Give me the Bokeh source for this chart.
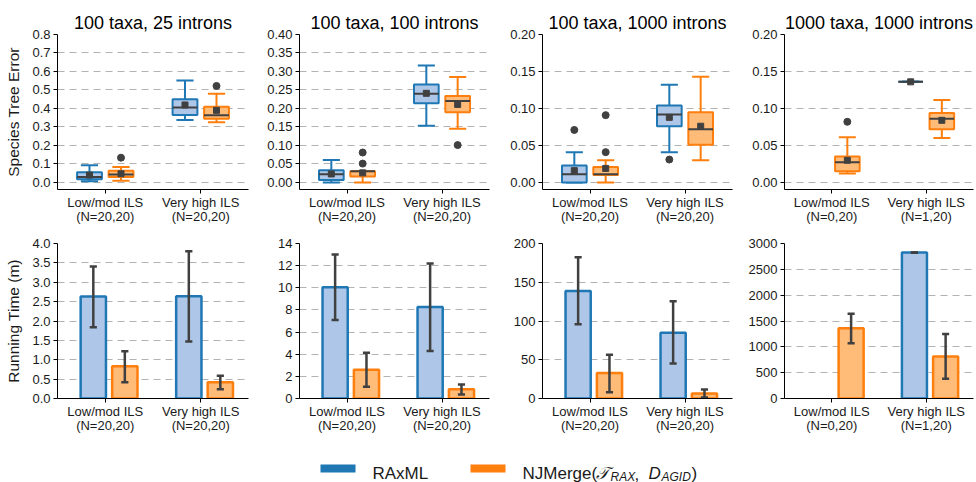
from bokeh.plotting import figure
from bokeh.layouts import row, column
from bokeh.models import Range1d, FixedTicker, NumeralTickFormatter, ColumnDataSource
from bokeh.embed import file_html
from bokeh.resources import INLINE
from bokeh.core.properties import value

# ---------------- data ----------------
GROUPS = ["Low/mod ILS", "Very high ILS"]
TITLES = ["100 taxa, 25 introns", "100 taxa, 100 introns",
          "100 taxa, 1000 introns", "1000 taxa, 1000 introns"]
N_LABELS = [["(N=20,20)", "(N=20,20)"], ["(N=20,20)", "(N=20,20)"],
            ["(N=20,20)", "(N=20,20)"], ["(N=0,20)", "(N=1,20)"]]

# Species tree error box stats per panel, per group: (whisker lo, q1, median, q3, whisker hi, mean)
ERR_RAX = [
    [(0.007, 0.018, 0.030, 0.055, 0.093, 0.040), (0.338, 0.365, 0.405, 0.450, 0.551, 0.419)],
    [(0.000, 0.007, 0.022, 0.033, 0.061, 0.023), (0.153, 0.214, 0.240, 0.265, 0.316, 0.241)],
    [(0.000, 0.000, 0.011, 0.023, 0.041, 0.016), (0.041, 0.076, 0.092, 0.104, 0.132, 0.088)],
    [None, (0.136, 0.136, 0.136, 0.136, 0.136, 0.136)],
]
ERR_NJM = [
    [(0.009, 0.030, 0.043, 0.063, 0.083, 0.047), (0.325, 0.345, 0.363, 0.410, 0.480, 0.390)],
    [(0.000, 0.016, 0.030, 0.030, 0.030, 0.026), (0.145, 0.190, 0.220, 0.234, 0.285, 0.211)],
    [(0.000, 0.010, 0.011, 0.021, 0.030, 0.019), (0.030, 0.051, 0.072, 0.095, 0.143, 0.076)],
    [(0.012, 0.015, 0.0275, 0.035, 0.061, 0.030), (0.060, 0.072, 0.086, 0.094, 0.1115, 0.084)],
]
ERR_RAX_OUT = [[[], []], [[], []], [[0.071], [0.031]], [[], []]]
ERR_NJM_OUT = [[[0.134], [0.522]], [[0.081, 0.051], [0.101]], [[0.091, 0.041], []], [[0.082], []]]

# Running time (minutes): mean and error bar (lo, hi)
TIME_RAX = [[2.63, 2.64], [10.05, 8.27], [138.8, 84.9], [None, 2825]]
TIME_RAX_ERR = [[(1.836, 3.405), (1.47, 3.80)], [(7.09, 13.0), (4.28, 12.19)],
                [(95.7, 182.3), (45.3, 125.4)], [None, (2822, 2828)]]
TIME_NJM = [[0.83, 0.42], [2.60, 0.84], [32.8, 6.5], [1358, 815]]
TIME_NJM_ERR = [[(0.42, 1.22), (0.24, 0.59)], [(1.06, 4.13), (0.36, 1.27)],
                [(8.2, 56.5), (1.3, 11.6)], [(1067, 1642), (381, 1248)]]

ERR_YMAX = [0.8, 0.4, 0.2, 0.2]
ERR_YTICKS = [[0.0, 0.1, 0.2, 0.3, 0.4, 0.5, 0.6, 0.7, 0.8],
              [0.0, 0.05, 0.10, 0.15, 0.20, 0.25, 0.30, 0.35, 0.40],
              [0.0, 0.05, 0.10, 0.15, 0.20],
              [0.0, 0.05, 0.10, 0.15, 0.20]]
ERR_FMT = ["0.0", "0.00", "0.00", "0.00"]
TIME_YMAX = [4.0, 14, 200, 3000]
TIME_YTICKS = [[0.0, 0.5, 1.0, 1.5, 2.0, 2.5, 3.0, 3.5, 4.0],
               [0, 2, 4, 6, 8, 10, 12, 14],
               [0, 50, 100, 150, 200],
               [0, 500, 1000, 1500, 2000, 2500, 3000]]
TIME_FMT = ["0.0", "0", "0", "0"]

METHODS = ["RAxML", "NJMerge"]

# ---------------- style ----------------
FONT = "Liberation Sans"
BLUE, BLUE_F = "#1f77b4", "#aec7e8"
ORANGE, ORANGE_F = "#ff7f0e", "#ffbb78"
DARK = "#404040"
TXT = "#1a1a1a"
BOX_W, CAP_W, BOX_OFF = 0.26, 0.18, 0.165
BAR_W, BAR_OFF_L, BAR_OFF_R, ECAP_W = 0.265, -0.125, 0.205, 0.075

FIG_W = [250, 243, 242, 241]
BORDER_L = [57, 49, 49, 49]
FRAME_W = [191, 190, 190, 189]
TOP_BT, TOP_BB = 34, 43
BOT_BT, BOT_BB = 11, 43
FRAME_H = 155


def style(p, i, yticks, fmt, ylabel=None):
    p.x_range = Range1d(-0.5, 1.5)
    p.xaxis.ticker = FixedTicker(ticks=[0, 1])
    p.xaxis.major_label_overrides = {0: GROUPS[0] + "\n" + N_LABELS[i][0],
                                     1: GROUPS[1] + "\n" + N_LABELS[i][1]}
    p.xaxis.major_label_text_line_height = 0.95
    p.yaxis.ticker = FixedTicker(ticks=yticks)
    p.yaxis.formatter = NumeralTickFormatter(format=fmt)
    for ax in (p.xaxis, p.yaxis):
        ax.axis_line_color = "black"
        ax.axis_line_width = 1
        ax.major_tick_line_color = "black"
        ax.major_tick_out = 4
        ax.major_tick_in = 0
        ax.minor_tick_line_color = None
        ax.major_label_text_font = FONT
        ax.major_label_text_font_size = "13px"
        ax.major_label_text_color = TXT
        ax.major_label_standoff = 3
    p.xaxis.major_label_standoff = 1
    if ylabel:
        p.yaxis.axis_label = ylabel
        p.yaxis.axis_label_text_font = FONT
        p.yaxis.axis_label_text_font_size = "15.5px"
        p.yaxis.axis_label_text_font_style = "normal"
        p.yaxis.axis_label_text_color = TXT
        p.yaxis.axis_label_standoff = 7
    p.xgrid.visible = False
    p.ygrid.grid_line_color = "#b3b3b3"
    p.ygrid.grid_line_dash = "7 5"
    p.ygrid.grid_line_width = 1
    p.outline_line_color = None
    p.background_fill_color = "white"


def draw_boxes(p, stats, outliers, offset, lc, fc):
    xs, ss = [], []
    for g, s in enumerate(stats):
        if s is not None:
            xs.append(g + offset)
            ss.append(s)
    if not xs:
        return
    src = ColumnDataSource(dict(
        x=xs,
        xl=[x - CAP_W / 2 for x in xs], xr=[x + CAP_W / 2 for x in xs],
        bl=[x - BOX_W / 2 for x in xs], br=[x + BOX_W / 2 for x in xs],
        lo=[s[0] for s in ss], q1=[s[1] for s in ss], med=[s[2] for s in ss],
        q3=[s[3] for s in ss], hi=[s[4] for s in ss], mean=[s[5] for s in ss]))
    p.segment(x0="x", y0="lo", x1="x", y1="q1", source=src, line_color=lc, line_width=2)
    p.segment(x0="x", y0="q3", x1="x", y1="hi", source=src, line_color=lc, line_width=2)
    p.segment(x0="xl", y0="lo", x1="xr", y1="lo", source=src, line_color=lc, line_width=2)
    p.segment(x0="xl", y0="hi", x1="xr", y1="hi", source=src, line_color=lc, line_width=2)
    p.vbar(x="x", width=BOX_W, bottom="q1", top="q3", source=src,
           fill_color=fc, line_color=lc, line_width=2)
    p.segment(x0="bl", y0="med", x1="br", y1="med", source=src, line_color=DARK, line_width=2)
    p.scatter(x="x", y="mean", source=src, marker="square", size=6,
              fill_color=DARK, line_color=DARK)
    ox, oy = [], []
    for g, vals in enumerate(outliers):
        for v in vals:
            ox.append(g + offset)
            oy.append(v)
    if ox:
        p.scatter(x=ox, y=oy, marker="circle", size=7, fill_color=DARK, line_color=DARK)


def draw_bars(p, vals, errs, offset, lc, fc):
    xs, ys, elo, ehi = [], [], [], []
    for g, v in enumerate(vals):
        if v is not None:
            xs.append(g + offset)
            ys.append(v)
            elo.append(errs[g][0])
            ehi.append(errs[g][1])
    src = ColumnDataSource(dict(
        x=xs, top=ys, lo=elo, hi=ehi,
        xl=[x - ECAP_W / 2 for x in xs], xr=[x + ECAP_W / 2 for x in xs]))
    p.vbar(x="x", width=BAR_W, bottom=0, top="top", source=src,
           fill_color=fc, line_color=lc, line_width=2.5)
    p.segment(x0="x", y0="lo", x1="x", y1="hi", source=src, line_color=DARK, line_width=2.5)
    p.segment(x0="xl", y0="lo", x1="xr", y1="lo", source=src, line_color=DARK, line_width=2.5)
    p.segment(x0="xl", y0="hi", x1="xr", y1="hi", source=src, line_color=DARK, line_width=2.5)


top_figs, bot_figs = [], []
for i in range(4):
    ymax = ERR_YMAX[i]
    br = FIG_W[i] - BORDER_L[i] - FRAME_W[i]
    pt = figure(width=FIG_W[i], height=TOP_BT + FRAME_H + TOP_BB, title=TITLES[i],
                y_range=Range1d(-0.0475 * ymax, ymax),
                toolbar_location=None, output_backend="svg",
                min_border_left=BORDER_L[i], min_border_right=br,
                min_border_top=TOP_BT, min_border_bottom=TOP_BB)
    pt.title.text_font = FONT
    pt.title.text_font_size = "18px"
    pt.title.text_font_style = "normal"
    pt.title.text_color = "black"
    pt.title.align = "center"
    pt.title.standoff = 4
    style(pt, i, ERR_YTICKS[i], ERR_FMT[i], "Species Tree Error" if i == 0 else None)
    draw_boxes(pt, ERR_RAX[i], ERR_RAX_OUT[i], -BOX_OFF, BLUE, BLUE_F)
    draw_boxes(pt, ERR_NJM[i], ERR_NJM_OUT[i], BOX_OFF, ORANGE, ORANGE_F)
    top_figs.append(pt)

    pb = figure(width=FIG_W[i], height=BOT_BT + FRAME_H + BOT_BB,
                y_range=Range1d(0, TIME_YMAX[i]),
                toolbar_location=None, output_backend="svg",
                min_border_left=BORDER_L[i], min_border_right=br,
                min_border_top=BOT_BT, min_border_bottom=BOT_BB)
    style(pb, i, TIME_YTICKS[i], TIME_FMT[i], "Running Time (m)" if i == 0 else None)
    draw_bars(pb, TIME_RAX[i], TIME_RAX_ERR[i], BAR_OFF_L, BLUE, BLUE_F)
    draw_bars(pb, TIME_NJM[i], TIME_NJM_ERR[i], BAR_OFF_R, ORANGE, ORANGE_F)
    bot_figs.append(pb)

# ---------------- legend ----------------
LEG_H = 482 - 2 * FRAME_H - TOP_BT - TOP_BB - BOT_BT - BOT_BB
leg = figure(width=976, height=LEG_H, x_range=Range1d(0, 976), y_range=Range1d(0, LEG_H),
             x_axis_type=None, y_axis_type=None, toolbar_location=None,
             output_backend="svg", min_border=0)
leg.grid.visible = False
leg.outline_line_color = None
leg.quad(left=[320, 470], right=[355, 505], bottom=[10, 10], top=[18, 18],
         fill_color=[BLUE, ORANGE], line_color=None)
leg.text(x=[372, 522, 691], y=[9, 9, 9], text=[METHODS[0], "NJMerge(", ")"],
         text_font=value(FONT), text_font_size="17px", text_color=TXT,
         text_baseline="alphabetic", text_align="left")
leg.text(x=[634], y=[9], text=[","], text_font=value(FONT), text_font_size="17px",
         text_color=TXT, text_baseline="alphabetic", text_align="left")
leg.text(x=[595, 648], y=[9, 9], text=["\U0001D4AF", "D"],
         text_font=value(FONT), text_font_size="17px", text_font_style="italic",
         text_color=TXT, text_baseline="alphabetic", text_align="left")
leg.text(x=[610, 661], y=[6, 6], text=["RAX", "AGID"],
         text_font=value(FONT), text_font_size="12px", text_font_style="italic",
         text_color=TXT, text_baseline="alphabetic", text_align="left")

layout = column(row(*top_figs), row(*bot_figs), leg)

open("out.html", "w").write(file_html(layout, INLINE))
